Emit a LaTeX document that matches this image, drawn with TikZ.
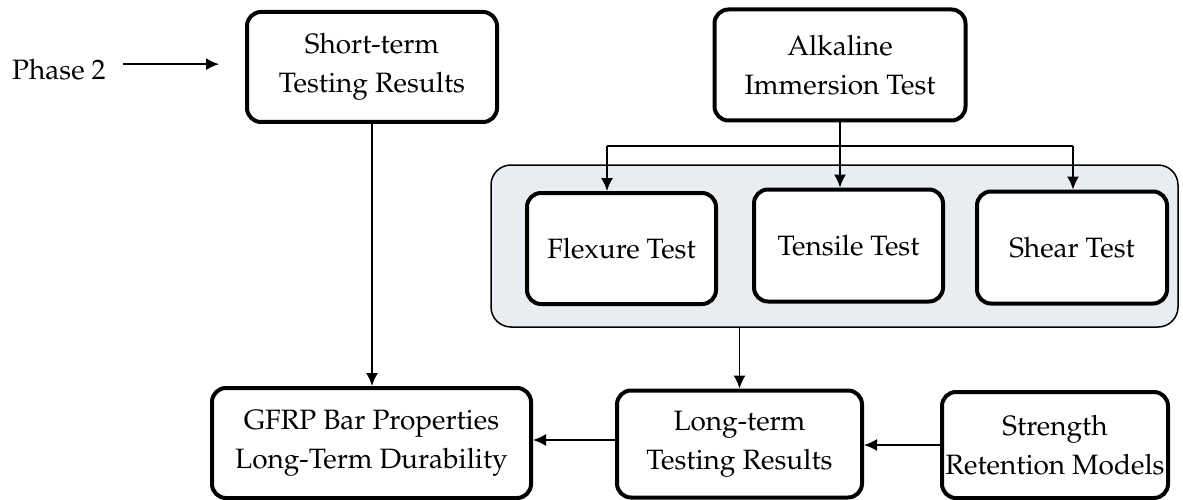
\documentclass[tikz,border=0pt]{standalone}
\usepackage[T1]{fontenc}
\usepackage{mathpazo}
\usetikzlibrary{arrows.meta}
\definecolor{panel}{RGB}{233,236,241}
\tikzset{
 box/.style={draw, line width=4pt, rounded corners=14pt, fill=white, align=center, inner sep=0pt, font=\fontsize{28}{39}\selectfont},
 conn/.style={line width=1.5pt, -{Latex[length=13pt,width=12pt]}},
 plain/.style={line width=1.5pt},
 lbl/.style={font=\fontsize{28}{38}\selectfont, inner sep=0pt},
 panelbox/.style={draw, fill=panel, line width=1.5pt, rounded corners=20pt, inner sep=0pt},
}
\begin{document}
\begin{tikzpicture}[x=1pt,y=-1pt]
\useasboundingbox (0,0) rectangle (1183,500);
% container
\node[panelbox, minimum width=687pt, minimum height=162pt] (grp) at (834.5,246) {};
% boxes
\node[box, minimum width=250pt, minimum height=110pt] (short) at (372,67) {Short-term\\Testing Results};
\node[box, minimum width=251pt, minimum height=111pt] (alk) at (840,65) {Alkaline\\Immersion Test};
\node[box, minimum width=189pt, minimum height=111pt] (flex) at (621.5,248.5) {Flexure Test};
\node[box, minimum width=189pt, minimum height=112pt] (tens) at (848.5,245.5) {Tensile Test};
\node[box, minimum width=190pt, minimum height=112pt] (shear) at (1072,247.5) {Shear Test};
\node[box, minimum width=319pt, minimum height=110pt] (gfrp) at (371.5,443) {GFRP Bar Properties\\Long-Term Durability};
\node[box, minimum width=245pt, minimum height=107pt] (long) at (739.5,444) {Long-term\\Testing Results};
\node[box, minimum width=226pt, minimum height=106pt] (str) at (1055,445) {Strength\\Retention Models};
% label
\node[lbl, anchor=base west] (phase) at (12,80) {Phase 2};
% connectors
\draw[conn] ([xshift=17pt,yshift=6pt]phase.east) -- ([xshift=-26pt,yshift=6pt]phase.east -| short.west);
\draw[conn] (short.south) -- (short.south |- gfrp.north);
\coordinate (bl) at (607,146);
\coordinate (br) at (1073,146);
\draw[plain] (bl) -- (br);
\draw[conn] (alk.south) -- (alk.south |- tens.north);
\draw[conn] (bl) -- (bl |- flex.north);
\draw[conn] (br) -- (br |- shear.north);
\draw[conn] (grp.south -| long.north) -- (long.north);
\draw[conn] ([yshift=4pt]long.west) -- ([yshift=4pt]long.west -| gfrp.east);
\draw[conn] (str.west) -- (str.west -| long.east);
\end{tikzpicture}
\end{document}
